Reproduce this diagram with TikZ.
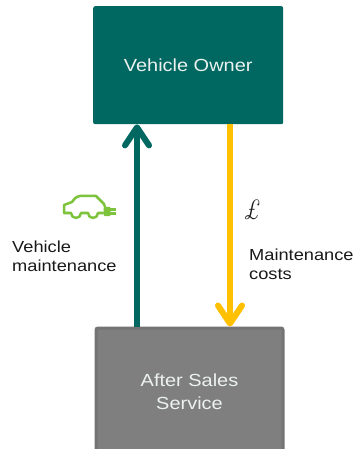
\documentclass[tikz,border=0pt]{standalone}
\usepackage{fontspec}
\setmainfont{Liberation Sans}[FakeStretch=1.14]
\newfontfamily\lmfont{Latin Modern Roman}
\usetikzlibrary{arrows.meta,calc}
\definecolor{ownerteal}{RGB}{0,104,96}
\definecolor{flowyellow}{RGB}{255,192,0}
\definecolor{servicegray}{RGB}{127,127,127}
\definecolor{serviceedge}{RGB}{116,116,116}
\definecolor{cargreen}{RGB}{125,195,60}
\definecolor{labeltext}{RGB}{25,25,25}
\definecolor{boxtext}{RGB}{235,242,240}
\begin{document}
\begin{tikzpicture}[x=1bp,y=-1bp,
  box/.style={inner sep=0pt, rounded corners=2bp, align=center, text=boxtext,
    font=\fontsize{17.5bp}{23bp}\selectfont},
  flow/.style={line width=6bp, -{Straight Barb[length=18bp,width=24bp,round]}},
  lbl/.style={anchor=north west, align=left, inner sep=0pt, text=labeltext,
    font=\fontsize{16bp}{19bp}\selectfont},
  carline/.style={cargreen, line width=2.5bp, line cap=round, line join=round}]
\clip (0,0) rectangle (356,449);
\fill[white] (0,0) rectangle (356,449);
% boxes
\node[box, fill=ownerteal, minimum width=190bp, minimum height=118bp, anchor=north west]
  (owner) at (93,6) {Vehicle Owner};
\node[box, fill=servicegray, draw=serviceedge, line width=3bp,
  minimum width=187bp, minimum height=127bp, anchor=north west]
  (service) at (94.5,326.5) {After Sales\\Service};
% connectors
\draw[flow, ownerteal] ([xshift=44bp]owner.south west |- service.north)
  -- ([xshift=44bp]owner.south west);
\draw[flow, flowyellow] ([xshift=137bp]owner.south west)
  -- ([xshift=137bp]owner.south west |- service.north);
% labels
\node[lbl] (vm) at (12,240.5) {Vehicle\\maintenance};
\node[lbl] (mc) at (249,249) {Maintenance\\costs};
\node[anchor=base west, inner sep=0pt, text=labeltext, xscale=0.85,
  font=\fontsize{28bp}{28bp}\lmfont\itshape]
  (pound) at (243,220) {£};
% car icon
\draw[carline] (64,213) -- (64,205) -- (72,202) .. controls (76,197) .. (80,196)
  -- (96,196) -- (104,204) -- (105,207);
\draw[carline] (64,213) -- (71,213) arc (180:0:5) -- (88,213) arc (180:0:5) -- (103,213);
\fill[cargreen, rounded corners=1bp] (103.5,207) rectangle (110.5,216);
\draw[carline, line cap=butt] (110,209.5) -- (116,209.5) (110,213.5) -- (116,213.5);
\end{tikzpicture}
\end{document}
